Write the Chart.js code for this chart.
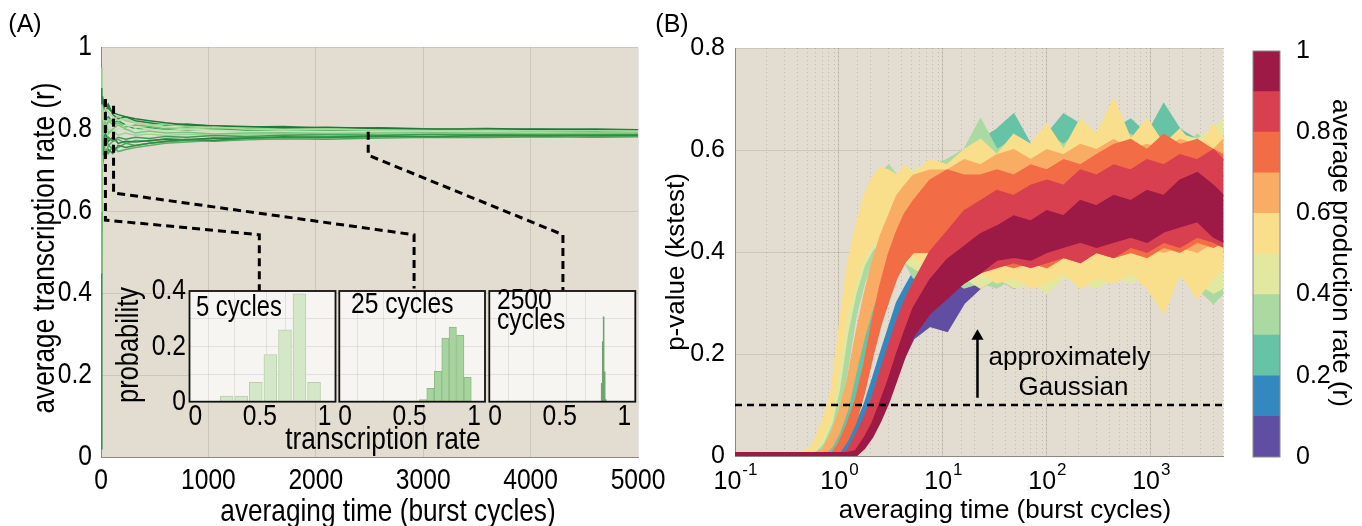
<!DOCTYPE html>
<html><head><meta charset="utf-8">
<script src="https://cdn.jsdelivr.net/npm/chart.js@4.4.1/dist/chart.umd.min.js"></script>
<style>
html,body{margin:0;padding:0;background:#ffffff;}
body{width:1362px;height:526px;overflow:hidden;position:relative;}
canvas{position:absolute;}
</style></head><body>
<canvas id="chartA" width="680" height="526" style="left:0px;top:0px;width:680px;height:526px"></canvas>
<canvas id="inset1" width="240" height="180" style="left:100px;top:270px;width:240px;height:180px"></canvas>
<canvas id="inset2" width="180" height="180" style="left:320px;top:270px;width:180px;height:180px"></canvas>
<canvas id="inset3" width="180" height="180" style="left:470px;top:270px;width:180px;height:180px"></canvas>
<canvas id="chartB" width="600" height="526" style="left:640px;top:0px;width:600px;height:526px"></canvas>
<canvas id="colorbar" width="122" height="526" style="left:1240px;top:0px;width:122px;height:526px"></canvas>
<script>
// ---------------- Panel A data ----------------
const timeA = [0, 8, 20, 40, 70, 110, 160, 230, 320, 450, 600, 800, 1050, 1350, 1700, 2100, 2600, 3100, 3600, 4100, 4600, 5000];
const runA1  = [0.60,0.86,0.83,0.85,0.84,0.83,0.82,0.825,0.815,0.81,0.805,0.80,0.805,0.80,0.798,0.80,0.797,0.796,0.797,0.795,0.796,0.795];
const runA2  = [0.90,0.78,0.74,0.73,0.75,0.74,0.76,0.755,0.76,0.765,0.77,0.775,0.772,0.778,0.781,0.779,0.783,0.782,0.784,0.783,0.785,0.784];
const runA3  = [0.45,0.70,0.80,0.82,0.79,0.80,0.81,0.80,0.79,0.795,0.79,0.792,0.788,0.79,0.791,0.789,0.79,0.791,0.79,0.789,0.79,0.79];
const runA4  = [0.80,0.88,0.86,0.87,0.85,0.84,0.835,0.83,0.825,0.82,0.815,0.81,0.808,0.806,0.803,0.804,0.801,0.80,0.799,0.80,0.798,0.797];
const runA5  = [0.70,0.74,0.72,0.75,0.74,0.76,0.745,0.75,0.755,0.76,0.765,0.768,0.772,0.775,0.777,0.779,0.78,0.781,0.782,0.782,0.783,0.783];
const runA6  = [0.85,0.82,0.84,0.80,0.81,0.79,0.80,0.81,0.805,0.80,0.795,0.80,0.797,0.794,0.795,0.793,0.794,0.792,0.793,0.792,0.791,0.792];
const runA7  = [0.55,0.76,0.78,0.76,0.78,0.77,0.78,0.775,0.78,0.777,0.782,0.78,0.784,0.782,0.785,0.786,0.785,0.787,0.786,0.787,0.788,0.787];
const runA8  = [0.95,0.84,0.81,0.83,0.82,0.825,0.83,0.82,0.815,0.81,0.812,0.806,0.803,0.804,0.80,0.801,0.799,0.80,0.798,0.797,0.798,0.796];
const runA9  = [0.65,0.80,0.77,0.79,0.77,0.78,0.765,0.77,0.768,0.772,0.775,0.774,0.778,0.776,0.779,0.78,0.782,0.781,0.783,0.784,0.783,0.785];
const runA10 = [0.75,0.86,0.82,0.80,0.82,0.81,0.815,0.805,0.81,0.806,0.80,0.803,0.80,0.801,0.798,0.799,0.797,0.798,0.796,0.797,0.796,0.795];
const runA11 = [0.50,0.72,0.75,0.78,0.76,0.75,0.755,0.765,0.76,0.765,0.768,0.772,0.77,0.774,0.776,0.775,0.778,0.78,0.779,0.781,0.78,0.781];
const runA12 = [0.88,0.80,0.78,0.81,0.80,0.82,0.80,0.795,0.80,0.79,0.793,0.79,0.795,0.792,0.79,0.792,0.791,0.793,0.792,0.79,0.791,0.792];
const runA13 = [0.02,0.82,0.85,0.82,0.83,0.815,0.82,0.81,0.80,0.803,0.80,0.798,0.80,0.797,0.796,0.795,0.796,0.794,0.795,0.794,0.793,0.794];
const runA14 = [0.72,0.77,0.79,0.77,0.79,0.795,0.785,0.79,0.785,0.788,0.784,0.787,0.785,0.786,0.788,0.787,0.786,0.788,0.787,0.788,0.787,0.788];
const runA15 = [0.82,0.75,0.77,0.74,0.76,0.77,0.775,0.765,0.772,0.77,0.776,0.773,0.777,0.779,0.778,0.781,0.78,0.782,0.781,0.783,0.782,0.783];
const runA16 = [0.60,0.85,0.87,0.84,0.86,0.835,0.825,0.83,0.82,0.815,0.81,0.812,0.807,0.805,0.806,0.802,0.803,0.80,0.801,0.799,0.80,0.798];
const runsA = [runA1,runA2,runA3,runA4,runA5,runA6,runA7,runA8,runA9,runA10,runA11,runA12,runA13,runA14,runA15,runA16];
const runColors = ['#a8da9c','#2f8c47','#7fc57b','#1e7839','#5bb264','#bde4b1','#3d9b52','#90cf89','#27813f','#6cbb6e','#4aa75b','#c6e8bc','#34934c','#9bd594','#52ad60','#237d3c'];
const ticksAX = [0,1000,2000,3000,4000,5000];
const ticksAY = [0,0.2,0.4,0.6,0.8,1];

// dashed connectors (data coordinates of panel A)
const conn5X = [41, 41, 1474, 1474],       conn5Y = [0.873, 0.578, 0.542, 0.405];
const conn25X = [117, 117, 2915, 2915],    conn25Y = [0.857, 0.644, 0.542, 0.411];
const conn2500X = [2488, 2488, 4301, 4301], conn2500Y = [0.793, 0.736, 0.542, 0.406];

// inset histograms
const hist5Bins = [0.243,0.356,0.468,0.581,0.694,0.806,0.919];
const hist5Prob = [0.02,0.02,0.07,0.17,0.26,0.39,0.07];
const hist25Bins = [0.605,0.662,0.720,0.778,0.835,0.893,0.950];
const hist25Prob = [0.008,0.048,0.11,0.23,0.27,0.24,0.088];
const hist2500Bins = [0.825,0.833,0.840,0.848,0.856];
const hist2500Prob = [0.066,0.217,0.307,0.108,0.008];
const insetXTicks = [0,0.2,0.4,0.5,0.6,0.8,1];
const insetXLabels = [0,0.5,1];
const insetYTicks = [0,0.1,0.2,0.3,0.4];
const insetYLabels = [0,0.2,0.4];

// ---------------- Panel B data ----------------
const timeB = [0.1,0.4,0.55,0.7,0.85,1,1.2,1.45,1.75,2.1,2.5,3,3.6,4.3,5.2,7.5,11,16,23,33,48,70,100,145,210,300,440,640,920,1330,1900,2800,4000,5000];
const pvHi_r55 = [.004,.004,.018,.07,.13,.245,.37,.45,.51,.545,.565,.56,.55,.57,.55,.58,.57,.60,.62,.59,.63,.61,.65,.60,.66,.63,.70,.62,.66,.61,.64,.60,.65,.62];
const pvLo_r55 = [0,0,.006,.04,.082,.175,.28,.34,.39,.415,.425,.42,.40,.39,.39,.36,.37,.35,.36,.34,.35,.33,.34,.36,.33,.35,.34,.36,.33,.28,.36,.31,.35,.37];
const pvHi_r45 = [.004,.004,.014,.055,.11,.20,.33,.43,.495,.535,.555,.54,.55,.56,.56,.57,.56,.59,.60,.58,.61,.59,.62,.60,.61,.60,.63,.61,.62,.60,.63,.62,.64,.66];
const pvLo_r45 = [0,0,.003,.025,.065,.13,.24,.32,.375,.405,.42,.40,.39,.38,.37,.35,.34,.35,.33,.35,.33,.34,.32,.35,.34,.33,.35,.34,.36,.33,.35,.34,.32,.33];
const pvHi_r35 = [.004,.004,.008,.04,.085,.135,.26,.385,.46,.515,.55,.57,.55,.56,.55,.57,.58,.60,.66,.60,.62,.60,.63,.61,.64,.62,.60,.63,.61,.62,.60,.63,.61,.64];
const pvLo_r35 = [0,0,0,.012,.035,.065,.17,.275,.34,.385,.41,.43,.40,.38,.35,.34,.35,.33,.34,.33,.35,.34,.36,.35,.36,.34,.37,.36,.37,.35,.36,.33,.30,.32];
const pvHi_r65 = [.004,.004,.004,.012,.045,.085,.145,.235,.315,.38,.43,.47,.51,.53,.55,.56,.56,.58,.57,.59,.60,.58,.60,.59,.61,.60,.62,.60,.61,.60,.62,.61,.60,.62];
const pvLo_r65 = [0,0,0,.002,.018,.045,.09,.165,.235,.29,.33,.36,.39,.40,.41,.40,.38,.38,.37,.38,.37,.39,.38,.39,.38,.40,.39,.40,.41,.40,.41,.40,.42,.41];
const pvHi_r25 = [.004,.004,.004,.004,.025,.055,.105,.17,.26,.335,.395,.44,.485,.51,.54,.56,.58,.60,.62,.64,.67,.61,.63,.67,.65,.63,.64,.66,.63,.69,.64,.62,.61,.63];
const pvLo_r25 = [0,0,0,0,.006,.025,.065,.12,.19,.255,.305,.34,.37,.385,.40,.42,.38,.38,.37,.38,.37,.38,.37,.39,.38,.40,.38,.39,.38,.40,.39,.38,.37,.39];
const pvHi_r75 = [.004,.004,.004,.004,.004,.025,.062,.11,.18,.265,.335,.395,.44,.475,.50,.54,.56,.55,.55,.56,.55,.57,.56,.58,.57,.59,.61,.62,.60,.63,.61,.62,.60,.59];
const pvLo_r75 = [0,0,0,0,0,.006,.03,.066,.125,.195,.255,.305,.35,.38,.40,.40,.37,.37,.36,.38,.37,.38,.37,.39,.38,.40,.39,.40,.39,.41,.40,.42,.41,.42];
const pvHi_r15 = [.004,.004,.004,.004,.004,.004,.03,.06,.10,.15,.20,.25,.30,.33,.36,.42,.47,.59,.52,.55,.54,.56,.60,.56,.57,.55,.56,.57,.55,.56,.57,.55,.56,.55];
const pvLo_r15 = [0,0,0,0,0,0,.01,.03,.06,.095,.135,.18,.21,.24,.26,.30,.32,.34,.35,.36,.37,.38,.37,.38,.39,.38,.39,.40,.39,.40,.41,.40,.41,.40];
const pvHi_r85 = [.004,.004,.004,.004,.004,.004,.01,.04,.075,.115,.165,.215,.265,.305,.34,.40,.44,.48,.50,.52,.51,.53,.54,.53,.56,.55,.57,.56,.58,.57,.59,.58,.60,.58];
const pvLo_r85 = [0,0,0,0,0,0,0,.012,.035,.07,.105,.145,.19,.225,.25,.29,.32,.34,.36,.37,.38,.37,.38,.39,.38,.40,.39,.41,.40,.42,.41,.43,.42,.41];
const pvHi_r05 = [.004,.004,.004,.004,.004,.004,.004,.015,.05,.085,.125,.175,.225,.27,.31,.36,.39,.42,.44,.45,.46,.47,.48,.47,.49,.48,.49,.50,.49,.50,.51,.50,.51,.50];
const pvLo_r05 = [0,0,0,0,0,0,0,0,.02,.045,.075,.115,.16,.195,.23,.255,.245,.30,.33,.35,.33,.36,.37,.38,.39,.39,.40,.41,.40,.42,.41,.42,.43,.42];
const pvHi_r95 = [.006,.006,.006,.006,.006,.006,.006,.01,.035,.065,.105,.15,.20,.245,.29,.345,.385,.41,.435,.45,.47,.46,.48,.47,.50,.49,.51,.50,.52,.51,.54,.555,.53,.51];
const pvLo_r95 = [0,0,0,0,0,0,0,0,.015,.038,.068,.105,.15,.195,.235,.28,.31,.34,.36,.385,.39,.385,.40,.41,.42,.41,.42,.43,.42,.44,.45,.46,.43,.42];

const rateBinColors = ['#5f4ea1','#3389bf','#66c3a6','#abd9a2','#e3e8a1','#f9df8c','#f9ac63','#f26c45','#d8404f','#9e1a46']; // 0-0.1 ... 0.9-1
const colorbarStep = [0.1,0.1,0.1,0.1,0.1,0.1,0.1,0.1,0.1,0.1];
const colorbarTicks = [0,0.2,0.4,0.6,0.8,1];
const threshold = 0.1;
const arrowX = 21.5, arrowY = [0.114, 0.235];
const decadeTicks = [0.1,1,10,100,1000], decadeExp = ['-1','0','1','2','3'];
const xMinB = 0.1, xMaxB = 5000;

// ---------------- helpers ----------------
const FB = "'Liberation Sans',Arial,Helvetica,sans-serif";
const COND = 0.82;   // horizontal condensing used for panel A lettering
const PLOT_BG = '#e3ddd1';
const GRID = 'rgba(95,85,75,0.16)';
const AXIS = '#8a8680';
const fmtNum = v => String(+(+v).toFixed(2));

function bgPlugin(color){ return {id:'bg', beforeDraw(c){const a=c.chartArea,x=c.ctx;x.save();x.fillStyle=color;x.fillRect(a.left,a.top,a.right-a.left,a.bottom-a.top);x.restore();}}; }
function framePlugin(color,w){ return {id:'frame', afterDraw(c){const a=c.chartArea,x=c.ctx;x.save();x.strokeStyle=color;x.lineWidth=w;x.strokeRect(a.left,a.top,a.right-a.left,a.bottom-a.top);x.restore();}}; }
function textPlugin(items){ return {id:'txt', afterDraw(c){const x=c.ctx;const list=typeof items==='function'?items(c):items;
  list.forEach(t=>{x.save();x.font=t.font;x.fillStyle=t.color||'#000';x.textAlign=t.align||'center';x.textBaseline=t.baseline||'middle';
  x.translate(t.x,t.y);if(t.rot)x.rotate(t.rot);if(t.sx)x.scale(t.sx,1);x.fillText(t.text,0,0);x.restore();});}}; }
// condensed tick labels drawn at the positions given by the chart's own scales
function condTicks(specs){ return {id:'condTicks', afterDraw(c){const x=c.ctx;
  specs.forEach(sp=>{const s=c.scales[sp.axis];
    s.ticks.forEach(t=>{const lab=sp.fmt(t.value); if(lab==='') return; const p=s.getPixelForValue(t.value);
      x.save(); x.font=sp.font; x.fillStyle='#000'; x.textBaseline='middle';
      if(sp.axis==='x'){x.translate(p,sp.pos);x.textAlign='center';} else {x.translate(sp.pos,p);x.textAlign='right';}
      x.scale(COND,1); x.fillText(lab,0,0); x.restore();});});}}; }
function fixSize(prop,val){ return function(s){ s[prop]=val; s.paddingTop=0;s.paddingBottom=0;s.paddingLeft=0;s.paddingRight=0; }; }
const baseOpts = {responsive:false, animation:false, devicePixelRatio:1, events:[],
  plugins:{legend:{display:false}, tooltip:{enabled:false}}};

// ---------------- Panel A ----------------
const dsA = [];
[[conn5X,conn5Y],[conn25X,conn25Y],[conn2500X,conn2500Y]].forEach(([xs,ys])=>{
  dsA.push({data: xs.map((v,i)=>({x:v,y:ys[i]})), borderColor:'#000', borderWidth:3, borderDash:[8,5], pointRadius:0, fill:false});
});
runsA.forEach((r,k)=>{
  dsA.push({data: timeA.map((t,i)=>({x:t,y:r[i]})), borderColor:runColors[k], borderWidth:1.5, pointRadius:0, fill:false});
});
new Chart(document.getElementById('chartA'), {
  type:'line', data:{datasets:dsA},
  options:Object.assign({}, baseOpts, {
    layout:{padding:{left:0,right:42,top:47,bottom:0}},
    scales:{
      x:{type:'linear', min:0, max:5000, afterFit:fixSize('height',69),
         afterBuildTicks:s=>{s.ticks=ticksAX.map(v=>({value:v}));},
         ticks:{display:false}, grid:{color:GRID, drawTicks:false}, border:{color:AXIS, width:1}},
      y:{min:0, max:1, afterFit:fixSize('width',101),
         afterBuildTicks:s=>{s.ticks=ticksAY.map(v=>({value:v}));},
         ticks:{display:false}, grid:{color:GRID, drawTicks:false}, border:{color:AXIS, width:1}}
    }
  }),
  plugins:[bgPlugin(PLOT_BG),
    condTicks([{axis:'x', pos:481, font:`30px ${FB}`, fmt:fmtNum},{axis:'y', pos:92, font:`30px ${FB}`, fmt:fmtNum}]),
    textPlugin([
    {text:'(A)', x:25, y:25, font:`25px ${FB}`},
    {text:'average transcription rate (r)', x:45, y:248, rot:-Math.PI/2, sx:COND, font:`32px ${FB}`},
    {text:'averaging time (burst cycles)', x:388, y:512, sx:COND, font:`32px ${FB}`},
    {text:'transcription rate', x:383, y:440, sx:COND, font:`32px ${FB}`}
  ])]
});

// ---------------- Insets ----------------
function makeInset(id, bins, probs, fill, stroke, showY, pad, texts){
  const tickSpecs=[{axis:'x', pos:147, font:`30px ${FB}`, fmt:v=>insetXLabels.includes(v)?String(v):''}];
  if(showY) tickSpecs.push({axis:'y', pos:86, font:`30px ${FB}`, fmt:v=>insetYLabels.includes(v)?String(v):''});
  new Chart(document.getElementById(id), {
    type:'bar',
    data:{datasets:[{data: bins.map((b,i)=>({x:b,y:probs[i]})), backgroundColor:fill, borderColor:stroke, borderWidth:stroke?1:0,
      barPercentage:1, categoryPercentage:1}]},
    options:Object.assign({}, baseOpts, {
      layout:{padding:pad},
      scales:{
        x:{type:'linear', min:-0.045, max:1.085, offset:false, afterFit:fixSize('height',48.3),
           afterBuildTicks:s=>{s.ticks=insetXTicks.map(v=>({value:v}));},
           ticks:{display:false},
           grid:{color:c=>[0.2,0.4,0.6,0.8].includes(c.tick&&c.tick.value)?'rgba(0,0,0,0.08)':'rgba(0,0,0,0)', drawTicks:false},
           border:{display:false}},
        y:{min:0, max:0.4, afterFit:fixSize('width', showY?89.5:0),
           afterBuildTicks:s=>{s.ticks=insetYTicks.map(v=>({value:v}));},
           ticks:{display:false},
           grid:{color:c=>[0.1,0.2,0.3].includes(c.tick&&c.tick.value)?'rgba(0,0,0,0.08)':'rgba(0,0,0,0)', drawTicks:false},
           border:{display:false}}
      }
    }),
    plugins:[bgPlugin('#f6f5f1'), framePlugin('#111',1.8), condTicks(tickSpecs), textPlugin(texts)]
  });
}
makeInset('inset1', hist5Bins, hist5Prob, '#d4e8c9', '#b7d2aa', true, {left:0,right:4.5,top:21,bottom:0},
  [{text:'probability', x:29, y:75, rot:-Math.PI/2, sx:COND, font:`31px ${FB}`},
   {text:'5 cycles', x:96, y:38, align:'left', sx:COND, font:`29px ${FB}`}]);
makeInset('inset2', hist25Bins, hist25Prob, '#a7d49e', '#8bbd83', false, {left:19.3,right:15,top:21,bottom:0},
  [{text:'25 cycles', x:31, y:35, align:'left', sx:COND, font:`30px ${FB}`}]);
makeInset('inset3', hist2500Bins, hist2500Prob, '#6fa371', null, false, {left:19.3,right:14.7,top:21,bottom:0},
  [{text:'2500', x:27, y:31, align:'left', sx:COND, font:`30px ${FB}`},
   {text:'cycles', x:27, y:51, align:'left', sx:COND, font:`30px ${FB}`}]);

// ---------------- Panel B ----------------
const bands = [
  {lo:pvLo_r95, hi:pvHi_r95, color:rateBinColors[9]},
  {lo:pvLo_r85, hi:pvHi_r85, color:rateBinColors[8]},
  {lo:pvLo_r75, hi:pvHi_r75, color:rateBinColors[7]},
  {lo:pvLo_r65, hi:pvHi_r65, color:rateBinColors[6]},
  {lo:pvLo_r55, hi:pvHi_r55, color:rateBinColors[5]},
  {lo:pvLo_r45, hi:pvHi_r45, color:rateBinColors[4]},
  {lo:pvLo_r35, hi:pvHi_r35, color:rateBinColors[3]},
  {lo:pvLo_r25, hi:pvHi_r25, color:rateBinColors[2]},
  {lo:pvLo_r15, hi:pvHi_r15, color:rateBinColors[1]},
  {lo:pvLo_r05, hi:pvHi_r05, color:rateBinColors[0]}
];
const dsB = [];
dsB.push({data:[{x:xMinB,y:threshold},{x:xMaxB,y:threshold}], borderColor:'#000', borderWidth:2.5, borderDash:[7,5], pointRadius:0, fill:false});
dsB.push({data:arrowY.map(v=>({x:arrowX,y:v})), borderColor:'#000', borderWidth:2.5, pointRadius:[0,7], pointStyle:'triangle',
  pointBackgroundColor:'#000', pointBorderColor:'#000', pointBorderWidth:0, fill:false});
bands.forEach(b=>{
  dsB.push({data: timeB.map((t,i)=>({x:t,y:b.lo[i]})), borderColor:b.color, borderWidth:2, pointRadius:0, fill:false});
  dsB.push({data: timeB.map((t,i)=>({x:t,y:b.hi[i]})), borderColor:b.color, borderWidth:2, pointRadius:0, fill:'-1', backgroundColor:b.color});
});
new Chart(document.getElementById('chartB'), {
  type:'line', data:{datasets:dsB},
  options:Object.assign({}, baseOpts, {
    layout:{padding:{left:0,right:16.5,top:48,bottom:0}},
    scales:{
      x:{type:'logarithmic', min:xMinB, max:xMaxB, afterFit:fixSize('height',70),
         afterBuildTicks:s=>{s.ticks=decadeTicks.map(v=>({value:v}));},
         ticks:{display:false}, grid:{color:GRID, drawTicks:false}, border:{color:AXIS,width:1}},
      x2:{type:'logarithmic', position:'bottom', min:xMinB, max:xMaxB, afterFit:fixSize('height',0),
         ticks:{display:false, autoSkip:false}, grid:{color:'rgba(95,85,75,0.26)', drawTicks:false},
         border:{display:false, dash:[1,3]}},
      y:{min:0, max:0.8, afterFit:fixSize('width',95),
         ticks:{stepSize:0.2, font:{family:FB,size:25}, color:'#000', padding:10, callback:fmtNum},
         grid:{color:GRID, drawTicks:false}, border:{color:AXIS,width:1}}
    }
  }),
  plugins:[bgPlugin(PLOT_BG), textPlugin(c=>{
    const xs=c.scales.x, ys=c.scales.y;
    const ax = xs.getPixelForValue(arrowX);
    return [
      {text:'(B)', x:32, y:25, font:`25px ${FB}`},
      {text:'p-value (kstest)', x:37, y:262, rot:-Math.PI/2, font:`26px ${FB}`},
      {text:'averaging time (burst cycles)', x:365, y:511, font:`26px ${FB}`},
      {text:'approximately', x:ax+11, y:ys.getPixelForValue(0.192), align:'left', font:`26px ${FB}`},
      {text:'Gaussian', x:ax+96, y:ys.getPixelForValue(0.133), font:`26px ${FB}`}
    ];
  }), {id:'suplabels', afterDraw(c){
    const x=c.ctx, xs=c.scales.x;
    decadeTicks.forEach((v,i)=>{
      const px=xs.getPixelForValue(v);
      x.save(); x.fillStyle='#000'; x.textBaseline='alphabetic'; x.textAlign='left';
      x.font=`25px ${FB}`; const w1=x.measureText('10').width;
      x.font=`17px ${FB}`; const w2=x.measureText(decadeExp[i]).width;
      const s=px-(w1+w2)/2;
      x.font=`25px ${FB}`; x.fillText('10', s, 489);
      x.font=`17px ${FB}`; x.fillText(decadeExp[i], s+w1+1, 475);
      x.restore();
    });
  }}]
});

// ---------------- Colorbar ----------------
new Chart(document.getElementById('colorbar'), {
  type:'bar',
  data:{labels:[''], datasets: rateBinColors.map((col,i)=>({data:[colorbarStep[i]], backgroundColor:col, borderWidth:0, barPercentage:1, categoryPercentage:1}))},
  options:Object.assign({}, baseOpts, {
    layout:{padding:{left:13,right:0,top:51,bottom:69}},
    scales:{
      x:{display:false, stacked:true},
      y:{position:'right', stacked:true, min:0, max:1, afterFit:fixSize('width',82),
         afterBuildTicks:s=>{s.ticks=colorbarTicks.map(v=>({value:v}));},
         ticks:{font:{family:FB,size:25}, color:'#000', padding:8, callback:fmtNum},
         grid:{display:false}, border:{display:false}}
    }
  }),
  plugins:[framePlugin('#8a8a8a',1), textPlugin([
    {text:'average production rate (r)', x:100, y:253, rot:Math.PI/2, font:`26px ${FB}`}
  ])]
});
</script>
</body></html>
